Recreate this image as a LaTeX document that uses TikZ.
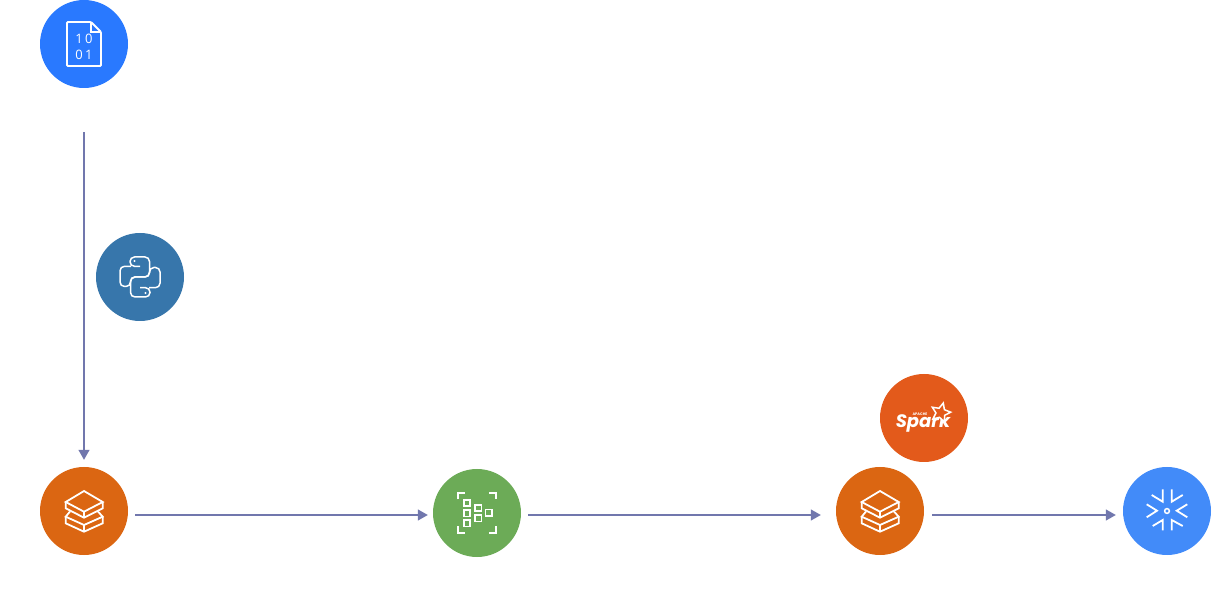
\documentclass[tikz,border=0pt]{standalone}
\usepackage{fontspec}
\usetikzlibrary{arrows.meta,shapes.geometric}
\newfontfamily\bitsfont[LetterSpace=18]{Open Sans}
\newfontfamily\sparkfont{Poppins}
\definecolor{fileblue}{HTML}{2979FF}
\definecolor{pyblue}{HTML}{3776AB}
\definecolor{deltaorange}{HTML}{DB6612}
\definecolor{scangreen}{HTML}{6CAB57}
\definecolor{sparkorange}{HTML}{E35A1B}
\definecolor{flakeblue}{HTML}{428BF9}
\definecolor{flowblue}{HTML}{7177AD}
\begin{document}
\begin{tikzpicture}
  [
    x=1pt, y=-1pt,
    badge/.style =
      {circle, minimum size=88pt, inner sep=0pt},
    icon/.style =
      {draw=white, line width=1.8pt, line join=miter},
    flow/.style =
      {draw=flowblue, line width=1.3pt, -{Triangle[length=10pt,width=11pt]}}
  ]
  \useasboundingbox (0,0) rectangle (1219,593);

  \node [badge, fill=fileblue]    at (84,44)    (f) {};
  \node [badge, fill=pyblue]      at (140,277)  (p) {};
  \node [badge, fill=deltaorange] at (84,511)   (d) {};
  \node [badge, fill=scangreen]   at (477,513)  (g) {};
  \node [badge, fill=deltaorange] at (880,511)  (e) {};
  \node [badge, fill=sparkorange] at (924,418)  (s) {};
  \node [badge, fill=flakeblue]   at (1167,511) (w) {};

  \draw[flow, shorten <=44pt, shorten >=7pt] (f.south) -- (d.north);
  \draw[flow, shorten <=7pt, shorten >=5pt]  ([yshift=-4pt]d.east) -- ([yshift=-2pt]g.west);
  \draw[flow, shorten <=7pt, shorten >=15pt] ([yshift=-2pt]g.east) -- ([yshift=-4pt]e.west);
  \draw[flow, shorten <=8pt, shorten >=7pt]  ([yshift=-4pt]e.east) -- ([yshift=-4pt]w.west);

  % file
  \begin{scope}[shift={(f.center)}]
    \draw[icon, rounded corners=1pt] (-17,-22) -- (7,-22) -- (17,-12) -- (17,22) -- (-17,22) -- cycle;
    \draw[icon, line width=1.2pt] (7,-22) -- (7,-12) -- (17,-12);
    \node [text=white, font=\bitsfont\fontsize{13}{14}\selectfont, inner sep=0pt] at (0,-4.7) (fa) {10};
    \node [text=white, font=\bitsfont\fontsize{13}{14}\selectfont, inner sep=0pt] at (0,11)   (fb) {01};
  \end{scope}

  % python
  \begin{scope}[shift={(p.center)}]
    \foreach \r in {0,180} {
      \begin{scope}[rotate=\r]
        \draw[icon, line width=1.5pt, rounded corners=4.5pt]
          (0,-10.7) -- (-10,-10.7) -- (-10,-20) -- (9.5,-20) -- (9.5,0) -- (-9.5,0)
          -- (-9.5,9.5) -- (-20,9.5) -- (-20,-10.7) -- (-9,-10.7);
        \fill[white] (-5.5,-16) circle (1.2);
      \end{scope}
    }
  \end{scope}

  % layers
  \foreach \c in {d,e} {
    \begin{scope}[shift={(\c.center)}]
      \draw[icon] (0,-20) -- (18.7,-9) -- (0,0.7) -- (-18.3,-9) -- cycle;
      \draw[icon] (-18.3,-9) -- (-18.3,-2.7) -- (0,6.7) -- (18.7,-2.7) -- (18.7,-9);
      \draw[icon] (0,0.7) -- (0,6.7);
      \draw[icon] (-14,0.5) -- (-18.3,5.7) -- (0,14) -- (18.7,5.7) -- (14,0.5);
      \draw[icon] (-18.3,5.7) -- (-18.3,12.3) -- (0,20.7) -- (18.7,12.3) -- (18.7,5.7);
      \draw[icon] (0,14) -- (0,20.7);
    \end{scope}
  }

  % scanner
  \begin{scope}[shift={(g.center)}]
    \draw[icon] (-19,-13.5) -- (-19,-20) -- (-12,-20);
    \draw[icon] (12,-20) -- (19,-20) -- (19,-13.5);
    \draw[icon] (-19,13.5) -- (-19,20) -- (-12,20);
    \draw[icon] (12,20) -- (19,20) -- (19,13.5);
    \foreach \x/\y in {-10/-10, -10/0.3, -10/10.3, 1.3/-5, 1.3/5.3, 11.7/-0.3}
      \draw[icon] (\x-3.2,\y-3.2) rectangle (\x+3.2,\y+3.2);
  \end{scope}

  % spark
  \begin{scope}[shift={(s.center)}]
    \node [text=white, font=\sparkfont\bfseries\itshape\fontsize{18}{20}\selectfont, inner sep=0pt, anchor=base, text height=8pt, text depth=0pt] at (-1,9.5) (sa) {Spark};
    \node [text=white, font=\sparkfont\bfseries\fontsize{3.6}{4}\selectfont, inner sep=0pt] at (-4,-4) (sb) {APACHE};
    \node [star, star points=5, star point ratio=2.1, minimum size=20pt, inner sep=0pt, rotate=-15,
           draw=white, line width=1.5pt, fill=sparkorange] at (16.7,-5.3) (st) {};
  \end{scope}

  % snowflake
  \begin{scope}[shift={(w.center)}]
    \draw[icon, line width=1.5pt] (0,0) circle (2.4);
    \draw[icon] (-4.3,-21.7) -- (-4.3,-9.3) -- (-15.3,-16);
    \draw[icon] (4.7,-21.7) -- (4.7,-9.3) -- (15.7,-16);
    \draw[icon] (20.3,-6.7) -- (9.7,-0.3) -- (20.3,6.3);
    \draw[icon] (-20.3,-6.7) -- (-10,-0.3) -- (-20.3,6.3);
    \draw[icon] (-4.3,19.5) -- (-4.3,9) -- (-14.3,15);
    \draw[icon] (4.7,19.5) -- (4.7,9) -- (15.7,15);
  \end{scope}
\end{tikzpicture}
\end{document}
